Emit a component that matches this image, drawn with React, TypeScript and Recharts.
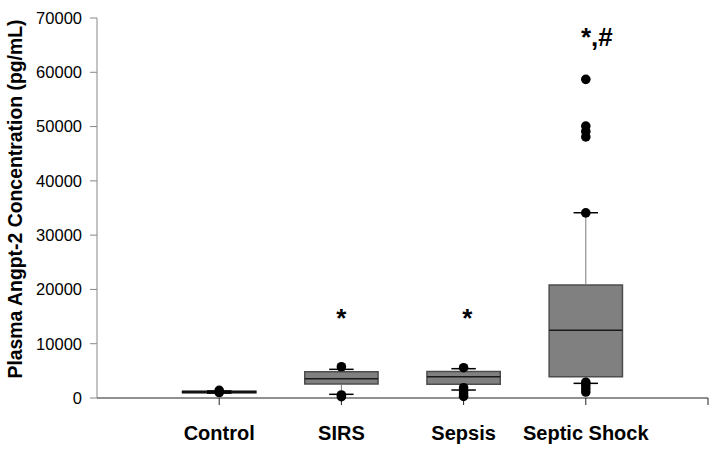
import { ComposedChart, Scatter, XAxis, YAxis, ReferenceArea, ReferenceLine, Label } from "recharts";

const categories = ["Control", "SIRS", "Sepsis", "Septic Shock"];
const q1 = [950, 2600, 2520, 3920];
const medians = [1100, 3550, 3920, 12500];
const q3 = [1250, 4850, 4900, 20800];
const whiskerLow = [900, 680, 1470, 2700];
const whiskerHigh = [1300, 5280, 5400, 34130];

const controlPoints = [1400, 1000];
const sirsPoints = [5760, 550, 240];
const sepsisPoints = [5580, 1900, 1300, 800, 300];
const shockPoints = [58700, 50100, 49100, 48100, 34100, 2900, 2300, 1700, 1100];

const yTicks = [0, 10000, 20000, 30000, 40000, 50000, 60000, 70000];
const annotationText = ["*", "*", "*,#"];
const annotationX = [2, 3.03, 4.09];
const annotationY = [13000, 13000, 64800];

const outliers = [controlPoints, sirsPoints, sepsisPoints, shockPoints].flatMap((pts, i) =>
  pts.map((y) => ({ x: i + 1, y }))
);
const annotations = annotationText.map((text, i) => ({ x: annotationX[i], y: annotationY[i], text }));

const BOX_HALF = 0.3;
const CAP_HALF = 0.1;
const font = "'Liberation Sans', Arial, sans-serif";

function Dot(props: any) {
  return <circle cx={props.cx} cy={props.cy} r={4.8} fill="#000" />;
}

function Annotation(props: any) {
  return (
    <text x={props.cx} y={props.cy} textAnchor="middle" fontFamily={font} fontWeight="bold" fontSize={26} fill="#000">
      {props.payload.text}
    </text>
  );
}

export default function App() {
  return (
    <div style={{ position: "absolute", left: 0, top: 0, background: "#fff" }}>
      <ComposedChart width={714} height={450} margin={{ top: 18, right: 6, left: 0, bottom: 0 }}>
        <XAxis
          type="number"
          dataKey="x"
          domain={[0, 5]}
          ticks={[1, 2, 3, 4, 5]}
          tickFormatter={(v: number) => categories[v - 1] ?? ""}
          height={52}
          tickSize={7}
          tickMargin={21}
          stroke="#222"
          tick={{ fill: "#000", fontSize: 20, fontWeight: "bold", fontFamily: font }}
        />
        <YAxis
          type="number"
          dataKey="y"
          domain={[0, 70000]}
          ticks={yTicks}
          width={97}
          tickSize={7}
          tickMargin={8}
          stroke="#888"
          tick={{ fill: "#000", fontSize: 16.5, fontFamily: font }}
        >
          <Label
            content={() => (
              <text
                x={15}
                y={199}
                transform="rotate(-90,15,199)"
                textAnchor="middle"
                dominantBaseline="central"
                fontFamily={font}
                fontWeight="bold"
                fontSize={19.4}
                fill="#000"
              >
                Plasma Angpt-2 Concentration (pg/mL)
              </text>
            )}
          />
        </YAxis>
        {categories.map((c, i) => (
          <ReferenceArea
            key={"box" + c}
            x1={i + 1 - BOX_HALF}
            x2={i + 1 + BOX_HALF}
            y1={q1[i]}
            y2={q3[i]}
            fill="#808080"
            fillOpacity={1}
            stroke={i === 0 ? "#000" : "#4d4d4d"}
            strokeWidth={1.5}
            isAnimationActive={false}
          />
        ))}
        {categories.map((c, i) => (
          <ReferenceLine
            key={"wl" + c}
            segment={[{ x: i + 1, y: whiskerLow[i] }, { x: i + 1, y: q1[i] }]}
            stroke="#7a7a7a"
            strokeWidth={1}
          />
        ))}
        {categories.map((c, i) => (
          <ReferenceLine
            key={"wh" + c}
            segment={[{ x: i + 1, y: q3[i] }, { x: i + 1, y: whiskerHigh[i] }]}
            stroke="#7a7a7a"
            strokeWidth={1}
          />
        ))}
        {categories.map((c, i) => (
          <ReferenceLine
            key={"md" + c}
            segment={[{ x: i + 1 - BOX_HALF, y: medians[i] }, { x: i + 1 + BOX_HALF, y: medians[i] }]}
            stroke="#1a1a1a"
            strokeWidth={1.5}
          />
        ))}
        {categories.map((c, i) => (
          <ReferenceLine
            key={"cl" + c}
            segment={[{ x: i + 1 - CAP_HALF, y: whiskerLow[i] }, { x: i + 1 + CAP_HALF, y: whiskerLow[i] }]}
            stroke="#000"
            strokeWidth={1.5}
          />
        ))}
        {categories.map((c, i) => (
          <ReferenceLine
            key={"ch" + c}
            segment={[{ x: i + 1 - CAP_HALF, y: whiskerHigh[i] }, { x: i + 1 + CAP_HALF, y: whiskerHigh[i] }]}
            stroke="#000"
            strokeWidth={1.5}
          />
        ))}
        <Scatter data={outliers} shape={<Dot />} isAnimationActive={false} />
        <Scatter data={annotations} shape={<Annotation />} isAnimationActive={false} />
      </ComposedChart>
    </div>
  );
}
